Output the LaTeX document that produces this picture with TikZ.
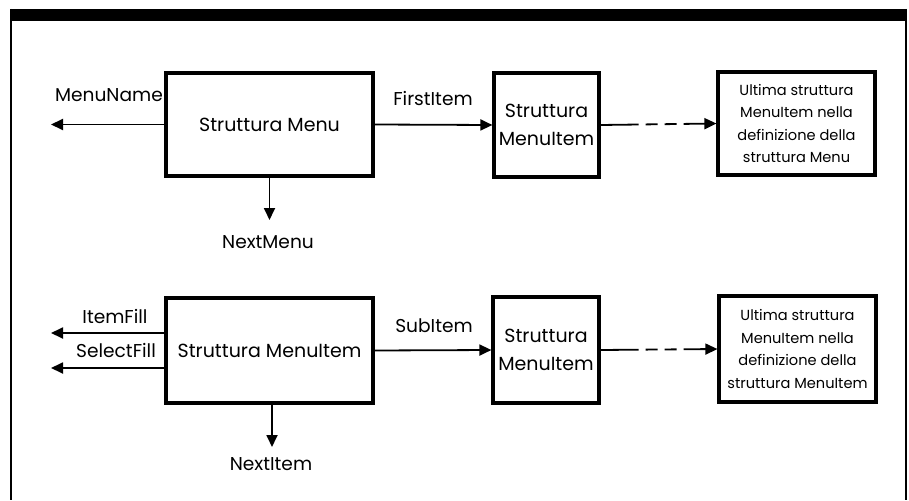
\documentclass[tikz,border=0pt]{standalone}
\usepackage{fontspec}
\setmainfont{Poppins}
\usetikzlibrary{arrows.meta}
\tikzset{
  box/.style={draw, line width=3.2pt, inner sep=0pt, align=center, font=\fontsize{19}{28}\selectfont},
  smallbox/.style={draw, line width=3.2pt, inner sep=0pt, align=center, font=\fontsize{14.6}{22.4}\selectfont},
  lbl/.style={inner sep=0pt, font=\fontsize{18.6}{20}\selectfont},
  arr/.style={line width=1.8pt, -{Triangle[length=12pt,width=11pt]}},
  dsh/.style={arr, dash pattern=on 38pt off 7pt on 12pt off 7pt on 12pt off 7pt on 40pt},
  frame/.style={line width=2.2pt}
}
\begin{document}
\begin{tikzpicture}[x=1pt,y=-1pt]
\useasboundingbox (0,0) rectangle (909,500);
% frame
\fill (11,9) rectangle (906,21);
\draw[frame] (11,9) -- (11,500);
\draw[frame] (906,9) -- (906,500);
% top row
\node[box, minimum width=207pt, minimum height=103pt] (b1) at (269.5,124.5) {Struttura Menu};
\node[box, minimum width=105pt, minimum height=104pt] (b2) at (546.5,125) {Struttura\\MenuItem};
\node[smallbox, minimum width=157pt, minimum height=103pt] (b3) at (796.5,123.5) {Ultima struttura\\MenuItem nella\\definizione della\\struttura Menu};
\coordinate (mn) at (51,124.5);
\coordinate (nm) at (269.5,220);
\draw[arr] (b1.west) -- (mn);
\draw[arr] (b1.south) -- (nm);
\draw[arr] (b1.east) -- (b2.west);
\draw[dsh] (b2.east) -- (b3.west);
\node[lbl, anchor=base east] (lmn) at (163,102) {MenuName};
\node[lbl, anchor=base] (lfi) at (433,106) {FirstItem};
\node[lbl, anchor=base] (lnm) at (268,248) {NextMenu};
% bottom row
\node[box, minimum width=207pt, minimum height=105pt] (b4) at (269.5,350.5) {Struttura MenuItem};
\node[box, minimum width=106pt, minimum height=106pt] (b5) at (546,350) {Struttura\\MenuItem};
\node[smallbox, minimum width=157pt, minimum height=106pt] (b6) at (797.5,349) {Ultima struttura\\MenuItem nella\\definizione della\\struttura MenuItem};
\coordinate (if) at (51,333);
\coordinate (sf) at (51,368);
\coordinate (ni) at (272,447);
\draw[arr] (b4.west |- if) -- (if);
\draw[arr] (b4.west |- sf) -- (sf);
\draw[arr] (b4.south -| ni) -- (ni);
\draw[arr] (b4.east) -- (b5.west);
\draw[dsh] (b5.east) -- (b6.west);
\node[lbl, anchor=base] (lif) at (115,323) {ItemFill};
\node[lbl, anchor=base] (lsf) at (116,357) {SelectFill};
\node[lbl, anchor=base] (lsi) at (434,332) {SubItem};
\node[lbl, anchor=base] (lni) at (271,470) {NextItem};
\end{tikzpicture}
\end{document}
